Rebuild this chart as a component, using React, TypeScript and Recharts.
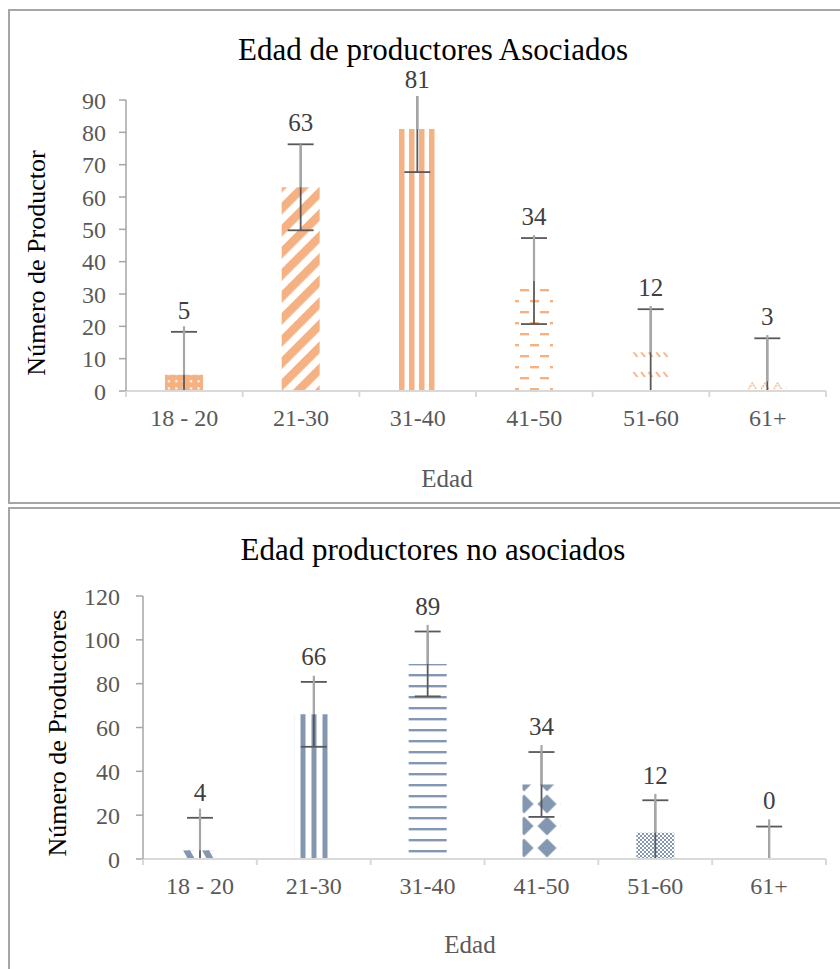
import React from 'react';
import { BarChart, Bar, XAxis, YAxis, Cell, ErrorBar, LabelList } from 'recharts';

const SERIF = '"Liberation Serif", "Times New Roman", serif';

// categorías de edad
const edades = ['18 - 20', '21-30', '31-40', '41-50', '51-60', '61+'];

// productores asociados
const asociados = [5, 63, 81, 34, 12, 3];
const errAsociados = [13.3, 13.3, 13.3, 13.3, 13.3, 13.3];
const errAsociadosSup = [15, 13.3, 14, 14.2, 14.3, 14.3];
const ticksAsociados = [0, 10, 20, 30, 40, 50, 60, 70, 80, 90];

// productores no asociados
const noAsociados = [4, 66, 89, 34, 12, 0];
const errNoAsociados = [14.8, 14.8, 14.8, 14.8, 14.8, 14.8];
const errNoAsociadosSup = [19, 17.6, 17.8, 18, 17.7, 18.1];
const ticksNoAsociados = [0, 20, 40, 60, 80, 100, 120];

const NARANJA = '#F4B183';
const AZUL = '#8497B0';
const OSCURO = '#595959';
const CLARO = '#a6a6a6';

const datosAsociados = edades.map((edad, i) => ({
  edad,
  valor: asociados[i],
  err: errAsociados[i],
  errSup: [0, errAsociadosSup[i]],
}));

const datosNoAsociados = edades.map((edad, i) => ({
  edad,
  valor: noAsociados[i],
  err: errNoAsociados[i],
  errSup: [0, errNoAsociadosSup[i]],
}));

// tamaño y márgenes de cada gráfico
const ANCHO = 830;
const EJE_Y = 60;
const EJE_X = 40;
const altoA = 491;
const margenA = { top: 89, right: 14, bottom: 71, left: 56 };
const altoB = 460;
const margenB = { top: 87, right: 14, bottom: 70, left: 73 };

function TickEdad(props: any) {
  const { x, y, payload, index, visibleTicksCount } = props;
  const half = payload.offset ?? 0;
  return (
    <g>
      <line x1={x - half} y1={y} x2={x - half} y2={y + 6} stroke="#d9d9d9" strokeWidth={2} />
      {index === visibleTicksCount - 1 && (
        <line x1={x + half} y1={y} x2={x + half} y2={y + 6} stroke="#d9d9d9" strokeWidth={2} />
      )}
      <text x={x} y={y + 35} textAnchor="middle" fontSize={24} fill={OSCURO} fontFamily={SERIF}>
        {payload.value}
      </text>
    </g>
  );
}

function Etiqueta(props: any) {
  const vb = props.viewBox ?? props;
  const x = vb.x ?? props.x;
  const y = vb.y ?? props.y;
  const w = vb.width ?? props.width;
  const base = Math.max(y - props.off, props.min);
  return (
    <text x={x + w / 2} y={base} textAnchor="middle" fontSize={25} fill="#404040" fontFamily={SERIF}>
      {props.value}
    </text>
  );
}

function Recorte({ id, alto, margen }: { id: string; alto: number; margen: any }) {
  const x = margen.left + EJE_Y;
  const y = margen.top - 4;
  const h = alto - margen.bottom - EJE_X - y;
  return (
    <clipPath id={id} clipPathUnits="userSpaceOnUse">
      <rect x={x} y={y} width={ANCHO - x} height={h} />
    </clipPath>
  );
}

function PatronesAsociados() {
  return (
    <defs>
      <Recorte id="recorteA" alto={altoA} margen={margenA} />
      <pattern id="a1" x="0" y="0" width="7.4" height="7.2" patternUnits="userSpaceOnUse">
        <rect width="7.4" height="7.2" fill={NARANJA} />
        <rect x="2.5" y="2" width="2" height="2" fill="#fff" />
      </pattern>
      <pattern id="a2" width="15.6" height="15.6" patternUnits="userSpaceOnUse" patternTransform="rotate(45)">
        <rect width="8.5" height="15.6" fill={NARANJA} />
      </pattern>
      <pattern id="a3" x="9" width="10" height="10" patternUnits="userSpaceOnUse">
        <rect width="5.5" height="10" fill={NARANJA} />
      </pattern>
      <pattern id="a4" x="0" y="3" width="20" height="22" patternUnits="userSpaceOnUse">
        <rect x="0" y="0" width="9" height="2.4" fill={NARANJA} />
        <rect x="10" y="11" width="9" height="2.4" fill={NARANJA} />
      </pattern>
      <pattern id="a5" width="7.5" height="20" patternUnits="userSpaceOnUse">
        <path d="M1,1 L5,6" stroke={NARANJA} strokeWidth="2" />
      </pattern>
      <pattern id="a6" width="0.333" height="1" patternUnits="objectBoundingBox">
        <path d="M0,8 L4,2 L8,8" stroke={NARANJA} strokeWidth="1.6" fill="none" strokeDasharray="2 1" />
      </pattern>
    </defs>
  );
}

function PatronesNoAsociados() {
  return (
    <defs>
      <Recorte id="recorteB" alto={altoB} margen={margenB} />
      <pattern id="b1" width="0.5" height="1" patternUnits="objectBoundingBox">
        <polygon points="2,0 9,0 14,9 7,9" fill={AZUL} />
      </pattern>
      <pattern id="b2" x="4.5" width="11" height="11" patternUnits="userSpaceOnUse">
        <rect width="5" height="11" fill={AZUL} />
      </pattern>
      <pattern id="b3" width="11" height="11" patternUnits="userSpaceOnUse">
        <rect width="11" height="2.4" fill={AZUL} />
      </pattern>
      <pattern id="b4" x="19.5" y="20" width="23" height="22" patternUnits="userSpaceOnUse">
        <polygon points="11.5,1.5 21,11 11.5,20.5 2,11" fill={AZUL} />
      </pattern>
      <pattern id="b5" width="4" height="4" patternUnits="userSpaceOnUse">
        <rect width="2" height="2" fill={AZUL} />
        <rect x="2" y="2" width="2" height="2" fill={AZUL} />
      </pattern>
    </defs>
  );
}

const patronesA = ['url(#a1)', 'url(#a2)', 'url(#a3)', 'url(#a4)', 'url(#a5)', 'url(#a6)'];
const patronesB = ['url(#b1)', 'url(#b2)', 'url(#b3)', 'url(#b4)', 'url(#b5)', 'transparent'];

const yTick = { fontSize: 24, fill: OSCURO, fontFamily: SERIF };

const estilo = `
.grafA [class*="recharts-errorBar"] { clip-path: url(#recorteA); }
.grafB [class*="recharts-errorBar"] { clip-path: url(#recorteB); }
`;

export default function App() {
  return (
    <div
      style={{
        position: 'absolute',
        left: 0,
        top: 0,
        width: 840,
        height: 969,
        overflow: 'hidden',
        background: '#fff',
        fontFamily: SERIF,
      }}
    >
      <style>{estilo}</style>
      <div
        style={{
          position: 'absolute',
          left: 8,
          top: 9,
          width: 850,
          height: 495,
          border: '2px solid #a6a6a6',
          boxSizing: 'border-box',
        }}
      />
      <div
        style={{
          position: 'absolute',
          left: 8,
          top: 507,
          width: 850,
          height: 480,
          border: '2px solid #a6a6a6',
          boxSizing: 'border-box',
        }}
      />

      <div className="grafA" style={{ position: 'absolute', left: 10, top: 11 }}>
        <BarChart width={ANCHO} height={altoA} data={datosAsociados} margin={margenA} barSize={38}>
          <PatronesAsociados />
          <XAxis
            dataKey="edad"
            axisLine={{ stroke: '#d9d9d9', strokeWidth: 2 }}
            tickLine={false}
            tickSize={0}
            tickMargin={0}
            height={EJE_X}
            interval={0}
            tick={<TickEdad />}
          />
          <YAxis
            domain={[0, 90]}
            ticks={ticksAsociados}
            allowDataOverflow
            width={EJE_Y}
            axisLine={{ stroke: CLARO, strokeWidth: 1.5 }}
            tickLine={{ stroke: CLARO, strokeWidth: 1.5 }}
            tickSize={7}
            tickMargin={13}
            tick={yTick}
          />
          <Bar dataKey="valor" isAnimationActive={false} minPointSize={1}>
            {datosAsociados.map((d, i) => (
              <Cell key={d.edad} fill={patronesA[i]} />
            ))}
            <ErrorBar dataKey="err" width={13} stroke={OSCURO} strokeWidth={1.8} />
            <ErrorBar dataKey="errSup" width={0} stroke={CLARO} strokeWidth={2.2} />
            <LabelList dataKey="valor" content={(p: any) => <Etiqueta {...p} off={56} min={77} />} />
          </Bar>
        </BarChart>
      </div>

      <div className="grafB" style={{ position: 'absolute', left: 10, top: 509 }}>
        <BarChart width={ANCHO} height={altoB} data={datosNoAsociados} margin={margenB} barSize={38}>
          <PatronesNoAsociados />
          <XAxis
            dataKey="edad"
            axisLine={{ stroke: '#d9d9d9', strokeWidth: 2 }}
            tickLine={false}
            tickSize={0}
            tickMargin={0}
            height={EJE_X}
            interval={0}
            tick={<TickEdad />}
          />
          <YAxis
            domain={[0, 120]}
            ticks={ticksNoAsociados}
            allowDataOverflow
            width={EJE_Y}
            axisLine={{ stroke: CLARO, strokeWidth: 1.5 }}
            tickLine={{ stroke: CLARO, strokeWidth: 1.5 }}
            tickSize={7}
            tickMargin={16}
            tick={yTick}
          />
          <Bar dataKey="valor" isAnimationActive={false} minPointSize={1}>
            {datosNoAsociados.map((d, i) => (
              <Cell key={d.edad} fill={patronesB[i]} />
            ))}
            <ErrorBar dataKey="err" width={13} stroke={OSCURO} strokeWidth={1.8} />
            <ErrorBar dataKey="errSup" width={0} stroke={CLARO} strokeWidth={2.2} />
            <LabelList dataKey="valor" content={(p: any) => <Etiqueta {...p} off={49} min={0} />} />
          </Bar>
        </BarChart>
      </div>

      <svg
        width={840}
        height={969}
        style={{ position: 'absolute', left: 0, top: 0, pointerEvents: 'none' }}
      >
        <text x={433} y={60} textAnchor="middle" fontSize={31} fill="#000" fontFamily={SERIF}>
          Edad de productores Asociados
        </text>
        <text
          transform="translate(45,263) rotate(-90)"
          textAnchor="middle"
          fontSize={26}
          fill="#000"
          fontFamily={SERIF}
        >
          Número de Productor
        </text>
        <text x={447} y={487} textAnchor="middle" fontSize={25} fill={OSCURO} fontFamily={SERIF}>
          Edad
        </text>

        <text x={433} y={560} textAnchor="middle" fontSize={31} fill="#000" fontFamily={SERIF}>
          Edad productores no asociados
        </text>
        <text
          transform="translate(66,733) rotate(-90)"
          textAnchor="middle"
          fontSize={26}
          fill="#000"
          fontFamily={SERIF}
        >
          Número de Productores
        </text>
        <text x={470} y={953} textAnchor="middle" fontSize={25} fill={OSCURO} fontFamily={SERIF}>
          Edad
        </text>
      </svg>
    </div>
  );
}
